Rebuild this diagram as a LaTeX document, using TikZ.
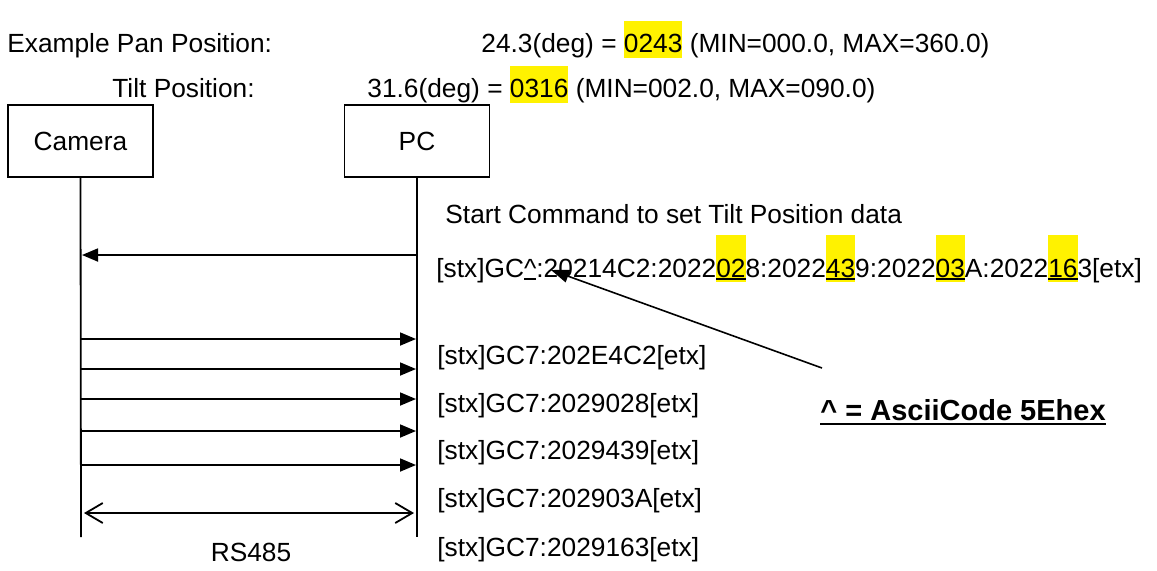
\documentclass[tikz,border=0pt]{standalone}
\usepackage{fontspec}
\setmainfont{Liberation Sans}
\usetikzlibrary{arrows.meta}
\newcommand\hlA[1]{{\setlength\fboxsep{0pt}\colorbox{yellow}{\rule[-3pt]{0pt}{18.5pt}#1}}}
\newcommand\myul[2]{\setbox0\hbox{#2}\rlap{\rule[#1]{\wd0}{0.9pt}}\box0}
\newcommand\hlB[1]{{\setlength\fboxsep{0pt}\colorbox{yellow}{\rule[-2.5pt]{0pt}{23.5pt}\myul{-1.4pt}{#1}}}}
\begin{document}
\begin{tikzpicture}[x=0.5pt,y=-0.5pt,
  txt/.style={inner sep=0pt,anchor=base west,font=\fontsize{13.15pt}{16pt}\selectfont},
  actor/.style={draw,line width=0.9pt,minimum width=72.5pt,minimum height=36pt,inner sep=0pt,font=\fontsize{13.15pt}{16pt}\selectfont},
  life/.style={line width=0.9pt},
  msg/.style={line width=0.9pt,-{Triangle[length=8pt,width=6.5pt]}},
  both/.style={line width=0.9pt,{Straight Barb[length=8.5pt,width=10pt]}-{Straight Barb[length=8.5pt,width=10pt]}},
  note/.style={line width=0.8pt,-{Triangle[length=9pt,width=6.5pt]}}]
\useasboundingbox (0,0) rectangle (1157,570);
% header
\node[txt] (h1) at (7,52) {Example Pan Position:};
\node[txt] (h1v) at (481,52) {24.3(deg) = \hlA{0243} (MIN=000.0, MAX=360.0)};
\node[txt] (h2) at (112,97) {Tilt Position:};
\node[txt] (h2v) at (367,97) {31.6(deg) = \hlA{0316} (MIN=002.0, MAX=090.0)};
% actors
\node[actor] (cam) at (80.5,141) {Camera};
\node[actor] (pc) at (417,141) {PC};
\coordinate (camend) at (81,537);
\coordinate (pcend) at (417,537);
\draw[life] (cam.south) -- (camend);
\draw[life] (pc.south) -- (pcend);
% start command
\node[txt] (start) at (445,223) {Start Command to set Tilt Position data};
\coordinate (p0) at (417,255);
\coordinate (c0) at (82,255);
\draw[msg] (p0) -- (c0);
\node[txt] (gc) at (436,277) {[stx]GC\myul{-1.4pt}{\textasciicircum}:20214C2:2022\hlB{02}8:2022\hlB{43}9:2022\hlB{03}A:2022\hlB{16}3[etx]};
% replies
\foreach \i/\y in {1/339,2/369,3/399,4/431,5/465}{
  \coordinate (c\i) at (81,\y);
  \coordinate (p\i) at (416,\y);
  \draw[msg] (c\i) -- (p\i);
}
\node[txt] (r1) at (437,364) {[stx]GC7:202E4C2[etx]};
\node[txt] (r2) at (437,412) {[stx]GC7:2029028[etx]};
\node[txt] (r3) at (437,459) {[stx]GC7:2029439[etx]};
\node[txt] (r4) at (437,507) {[stx]GC7:202903A[etx]};
\node[txt] (r5) at (437,556) {[stx]GC7:2029163[etx]};
% bus
\coordinate (b1) at (84,513);
\coordinate (b2) at (414,513);
\draw[both] (b1) -- (b2);
\node[txt,anchor=base] (rs) at (251,561) {RS485};
% note
\node[txt,font=\fontsize{14.5pt}{17pt}\selectfont\bfseries] (asc) at (820,420) {\myul{-2.6pt}{\textasciicircum{} = AsciiCode 5Ehex}};
\coordinate (nstart) at (822,368);
\coordinate (ntip) at (551,270);
\draw[note] (nstart) -- (ntip);
\end{tikzpicture}
\end{document}
